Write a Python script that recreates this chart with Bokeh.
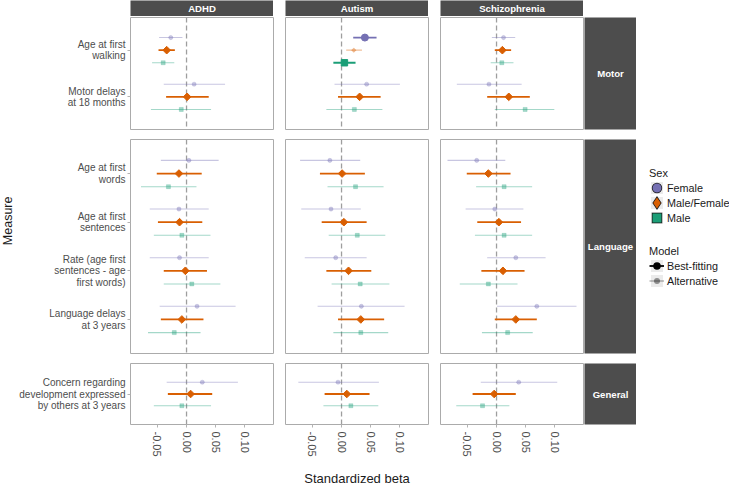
import math
import pandas as pd
from bokeh.plotting import figure
from bokeh.layouts import row, column
from bokeh.models import (FactorRange, Range1d, ColumnDataSource, Span, Label, Legend,
                          LegendItem, FixedTicker, NumeralTickFormatter)
from bokeh.transform import dodge
from bokeh.embed import file_html
from bokeh.resources import INLINE

FONT = "Liberation Sans"

# ---------------- data ----------------
measures = ["Age at first\nwalking", "Motor delays\nat 18 months", "Age at first\nwords",
            "Age at first\nsentences", "Rate (age first\nsentences - age\nfirst words)",
            "Language delays\nat 3 years",
            "Concern regarding\ndevelopment expressed\nby others at 3 years"]
groups = ["Motor", "Motor", "Language", "Language", "Language", "Language", "General"]
group_order = ["Motor", "Language", "General"]
diseases = ["ADHD", "Autism", "Schizophrenia"]
sexes = ["Female", "Male/Female", "Male"]
x_ticks = [-0.05, 0.0, 0.05, 0.10]

ADHD_F_beta = [-0.027, 0.013, 0.004, -0.013, -0.012, 0.018, 0.027]
ADHD_F_lo = [-0.047, -0.039, -0.044, -0.063, -0.063, -0.046, -0.034]
ADHD_F_hi = [-0.007, 0.066, 0.055, 0.038, 0.038, 0.084, 0.088]
ADHD_MF_beta = [-0.034, 0.001, -0.013, -0.012, -0.002, -0.008, 0.007]
ADHD_MF_lo = [-0.048, -0.035, -0.051, -0.049, -0.039, -0.044, -0.032]
ADHD_MF_hi = [-0.020, 0.038, 0.026, 0.027, 0.035, 0.029, 0.044]
ADHD_M_beta = [-0.040, -0.009, -0.031, -0.008, 0.009, -0.021, -0.008]
ADHD_M_lo = [-0.059, -0.061, -0.078, -0.056, -0.039, -0.066, -0.056]
ADHD_M_hi = [-0.021, 0.042, 0.017, 0.041, 0.058, 0.024, 0.042]

AUT_F_beta = [0.040, 0.043, -0.020, -0.018, -0.010, 0.034, -0.006]
AUT_F_lo = [0.020, -0.012, -0.071, -0.069, -0.063, -0.041, -0.074]
AUT_F_hi = [0.060, 0.100, 0.032, 0.033, 0.043, 0.108, 0.064]
AUT_MF_beta = [0.021, 0.031, 0.001, 0.004, 0.012, 0.033, 0.009]
AUT_MF_lo = [0.008, -0.006, -0.037, -0.034, -0.026, -0.006, -0.029]
AUT_MF_hi = [0.035, 0.067, 0.040, 0.043, 0.051, 0.073, 0.048]
AUT_M_beta = [0.005, 0.022, 0.024, 0.027, 0.032, 0.033, 0.016]
AUT_M_lo = [-0.014, -0.026, -0.024, -0.022, -0.017, -0.014, -0.031]
AUT_M_hi = [0.024, 0.070, 0.072, 0.075, 0.082, 0.080, 0.063]

SCZ_F_beta = [0.012, -0.013, -0.034, -0.003, 0.033, 0.069, 0.038]
SCZ_F_lo = [-0.008, -0.068, -0.084, -0.053, -0.016, 0.001, -0.027]
SCZ_F_hi = [0.032, 0.043, 0.015, 0.046, 0.084, 0.137, 0.104]
SCZ_MF_beta = [0.010, 0.021, -0.014, 0.004, 0.011, 0.033, -0.004]
SCZ_MF_lo = [-0.003, -0.016, -0.051, -0.033, -0.026, -0.003, -0.041]
SCZ_MF_hi = [0.025, 0.057, 0.024, 0.042, 0.048, 0.069, 0.033]
SCZ_M_beta = [0.009, 0.049, 0.013, 0.013, -0.014, 0.019, -0.024]
SCZ_M_lo = [-0.010, -0.003, -0.035, -0.037, -0.063, -0.025, -0.069]
SCZ_M_hi = [0.029, 0.099, 0.061, 0.061, 0.036, 0.062, 0.022]

# True where the sex-specific model (Female & Male) is best-fitting
ADHD_sex_specific_best = [False, False, False, False, False, False, False]
AUT_sex_specific_best = [True, False, False, False, False, False, False]
SCZ_sex_specific_best = [False, False, False, False, False, False, False]

series = {
    ("ADHD", "Female"): (ADHD_F_beta, ADHD_F_lo, ADHD_F_hi),
    ("ADHD", "Male/Female"): (ADHD_MF_beta, ADHD_MF_lo, ADHD_MF_hi),
    ("ADHD", "Male"): (ADHD_M_beta, ADHD_M_lo, ADHD_M_hi),
    ("Autism", "Female"): (AUT_F_beta, AUT_F_lo, AUT_F_hi),
    ("Autism", "Male/Female"): (AUT_MF_beta, AUT_MF_lo, AUT_MF_hi),
    ("Autism", "Male"): (AUT_M_beta, AUT_M_lo, AUT_M_hi),
    ("Schizophrenia", "Female"): (SCZ_F_beta, SCZ_F_lo, SCZ_F_hi),
    ("Schizophrenia", "Male/Female"): (SCZ_MF_beta, SCZ_MF_lo, SCZ_MF_hi),
    ("Schizophrenia", "Male"): (SCZ_M_beta, SCZ_M_lo, SCZ_M_hi),
}
sex_specific = {"ADHD": ADHD_sex_specific_best, "Autism": AUT_sex_specific_best,
                "Schizophrenia": SCZ_sex_specific_best}

rows = []
for (d, s), (b, lo, hi) in series.items():
    for i, m in enumerate(measures):
        best = (s != "Male/Female") == sex_specific[d][i]
        rows.append(dict(disease=d, sex=s, measure=m, group=groups[i],
                         beta=b[i], lo=lo[i], hi=hi[i], best=best))
df = pd.DataFrame(rows)

# ---------------- styles ----------------
SEX_COLOR = {"Female": "#7570B3", "Male/Female": "#D95F02", "Male": "#1B9E77"}
SEX_MARKER = {"Female": "circle", "Male/Female": "square", "Male": "square"}
SEX_ANGLE = {"Female": 0.0, "Male/Female": math.pi / 4, "Male": 0.0}
SIZE_BEST = {"Female": 7.0, "Male/Female": 5.4, "Male": 6.4}
SIZE_ALT = {"Female": 4.2, "Male/Female": 3.2, "Male": 4.0}
SEX_OFFSET = {"Female": 0.27, "Male/Female": 0.0, "Male": -0.27}

FRAME_W = 143
FRAME_H = {"Motor": 112, "Language": 214, "General": 61}
LEFT_B = 116
BOTTOM_B = 55
STRIP_DARK = "#4D4D4D"
BORDER = "#ABABAB"
TICK_COL = "#B3B3B3"
LABEL_COL = "#4D4D4D"

xr = Range1d(-0.096, 0.149)


def blank_fig(**kw):
    f = figure(x_range=Range1d(0, 1), y_range=Range1d(0, 1), output_backend="svg",
               toolbar_location=None, x_axis_location=None, y_axis_location=None,
               outline_line_color=None, **kw)
    f.xgrid.visible = False
    f.ygrid.visible = False
    return f


def strip_label(f, text):
    f.add_layout(Label(x=0.5, y=0.5, text=text, text_align="center", text_baseline="middle",
                       text_color="white", text_font=FONT, text_font_style="bold",
                       text_font_size="9.6px"))


def strip_top(text, left_border):
    f = blank_fig(frame_width=FRAME_W, frame_height=16, min_border_left=left_border,
                  min_border_right=0, min_border_top=0, min_border_bottom=0,
                  background_fill_color=STRIP_DARK, border_fill_color="white")
    strip_label(f, text)
    return f


def strip_right(text, g, top, bottom):
    f = blank_fig(frame_width=52, frame_height=FRAME_H[g], min_border_left=0,
                  min_border_right=0, min_border_top=top, min_border_bottom=bottom,
                  background_fill_color=STRIP_DARK, border_fill_color="white")
    strip_label(f, text)
    return f


def panel(d, g, ci, ri):
    facs = [m for m, gg in zip(measures, groups) if gg == g][::-1]
    yr = FactorRange(factors=facs, range_padding=0.2, range_padding_units="absolute")
    left = ci == 0
    bottom = ri == 2
    p = figure(frame_width=FRAME_W, frame_height=FRAME_H[g], x_range=xr, y_range=yr,
               output_backend="svg", toolbar_location=None,
               x_axis_location="below" if bottom else None,
               y_axis_location="left" if left else None,
               min_border_left=LEFT_B if left else 11, min_border_right=1,
               min_border_top=1 if ri == 0 else 9,
               min_border_bottom=BOTTOM_B if bottom else 1,
               outline_line_color=BORDER, outline_line_width=1,
               background_fill_color="white", border_fill_color="white")
    p.xgrid.visible = False
    p.ygrid.visible = False
    p.add_layout(Span(location=0, dimension="height", line_color="#9E9E9E", line_width=1.3,
                      line_dash="5 3", level="underlay"))
    sub = df[(df.disease == d) & (df.group == g)]
    for best in (False, True):
        for s in sexes:
            part = sub[(sub.sex == s) & (sub.best == best)]
            if len(part) == 0:
                continue
            src = ColumnDataSource(part[["measure", "beta", "lo", "hi"]])
            yy = dodge("measure", SEX_OFFSET[s], range=yr)
            col = SEX_COLOR[s]
            alpha = 1.0 if best else 0.4
            p.segment(x0="lo", x1="hi", y0=yy, y1=yy, source=src, line_color=col,
                      line_width=1.8 if best else 1.1, line_alpha=alpha)
            p.scatter(x="beta", y=yy, source=src, marker=SEX_MARKER[s], angle=SEX_ANGLE[s],
                      size=SIZE_BEST[s] if best else SIZE_ALT[s], fill_color=col,
                      line_color=col, fill_alpha=alpha, line_alpha=alpha,
                      line_width=1.0 if best else 0.5)
    if left:
        ax = p.yaxis[0]
        ax.axis_line_color = None
        ax.major_tick_out = 3
        ax.major_tick_in = 0
        ax.major_tick_line_color = TICK_COL
        ax.major_label_standoff = 2
        ax.major_label_text_font = FONT
        ax.major_label_text_font_size = "10px"
        ax.major_label_text_color = LABEL_COL
        ax.major_label_text_line_height = 1.05
    if bottom:
        ax = p.xaxis[0]
        ax.ticker = FixedTicker(ticks=x_ticks, minor_ticks=[])
        ax.formatter = NumeralTickFormatter(format="0.00")
        ax.axis_line_color = None
        ax.major_tick_out = 3
        ax.major_tick_in = 0
        ax.minor_tick_out = 0
        ax.minor_tick_in = 0
        ax.major_tick_line_color = TICK_COL
        ax.major_label_orientation = "vertical"
        ax.major_label_standoff = 4
        ax.major_label_text_font = FONT
        ax.major_label_text_font_size = "11px"
        ax.major_label_text_color = LABEL_COL
        if ci == 1:
            ax.axis_label = "Standardized beta"
            ax.axis_label_text_font = FONT
            ax.axis_label_text_font_size = "13px"
            ax.axis_label_text_font_style = "normal"
            ax.axis_label_text_color = "#1A1A1A"
            ax.axis_label_standoff = 11
    return p


strip_row = row(strip_top("ADHD", LEFT_B), strip_top("Autism", 12),
                strip_top("Schizophrenia", 12))
panel_rows = []
for ri, g in enumerate(group_order):
    figs = [panel(d, g, ci, ri) for ci, d in enumerate(diseases)]
    figs.append(strip_right(g, g, 1 if ri == 0 else 9, BOTTOM_B if ri == 2 else 1))
    panel_rows.append(row(*figs))
main_col = column(strip_row, *panel_rows)

TOTAL_H = 16 + (1 + 112 + 1) + (9 + 214 + 1) + (9 + 61 + BOTTOM_B)

# "Measure" axis title
mf = blank_fig(width=14, height=TOTAL_H, min_border=0)
mf.add_layout(Label(x=0.5, y=0.54, text="Measure", angle=math.pi / 2, text_align="center",
                    text_baseline="middle", text_font=FONT, text_font_size="12.5px",
                    text_color="#1A1A1A"))

# Legend figure (legend glyph renderers sit outside the visible range)
lf = blank_fig(width=93, height=TOTAL_H, min_border=0)
far = dict(x=[5.0, 6.0], y=[5.0, 5.0])
bg = lf.rect(x="x", y="y", width=1, height=1, source=ColumnDataSource(far),
             fill_color="#EBEBEB", line_color=None)
legend_marker = {"Female": "circle", "Male/Female": "diamond", "Male": "square"}
sex_items = []
for s in sexes:
    outer = lf.scatter(x="x", y="y", source=ColumnDataSource(far), marker=legend_marker[s],
                       fill_color="#1A1A1A", line_color="#1A1A1A", line_width=4.4,
                       line_join="miter")
    inner = lf.scatter(x="x", y="y", source=ColumnDataSource(far), marker=legend_marker[s],
                       fill_color=SEX_COLOR[s], line_color=SEX_COLOR[s], line_width=2.9,
                       line_join="miter")
    sex_items.append(LegendItem(label=s, renderers=[bg, outer, inner]))
l_best = lf.line(x="x", y="y", source=ColumnDataSource(far), line_color="black", line_width=1.8)
c_best = lf.scatter(x="x", y="y", source=ColumnDataSource(far), marker="circle",
                    fill_color="black", line_color="black", line_width=1.5)
l_alt = lf.line(x="x", y="y", source=ColumnDataSource(far), line_color="black",
                line_alpha=0.4, line_width=1.1)
c_alt = lf.scatter(x="x", y="y", source=ColumnDataSource(far), marker="circle",
                   fill_color="black", line_color=None, fill_alpha=0.4)
model_items = [LegendItem(label="Best-fitting", renderers=[bg, l_best, c_best]),
               LegendItem(label="Alternative", renderers=[bg, l_alt, c_alt])]

common = dict(orientation="vertical", glyph_width=15, glyph_height=15, label_height=15,
              spacing=0, padding=0, margin=0, border_line_color=None,
              background_fill_alpha=0, label_text_font=FONT, label_text_font_size="10.8px",
              label_text_color="#1A1A1A", title_text_font=FONT, title_text_font_size="11px",
              title_text_font_style="normal", title_text_color="#1A1A1A", title_standoff=1,
              label_standoff=3)
leg_sex = Legend(items=sex_items, title="Sex", location=(13, 254), **common)
leg_model = Legend(items=model_items, title="Model", location=(13, 191), **common)
lf.add_layout(leg_sex)
lf.add_layout(leg_model)

layout = row(mf, main_col, lf)

open("out.html", "w").write(file_html(layout, INLINE, title="Standardized beta by measure"))
